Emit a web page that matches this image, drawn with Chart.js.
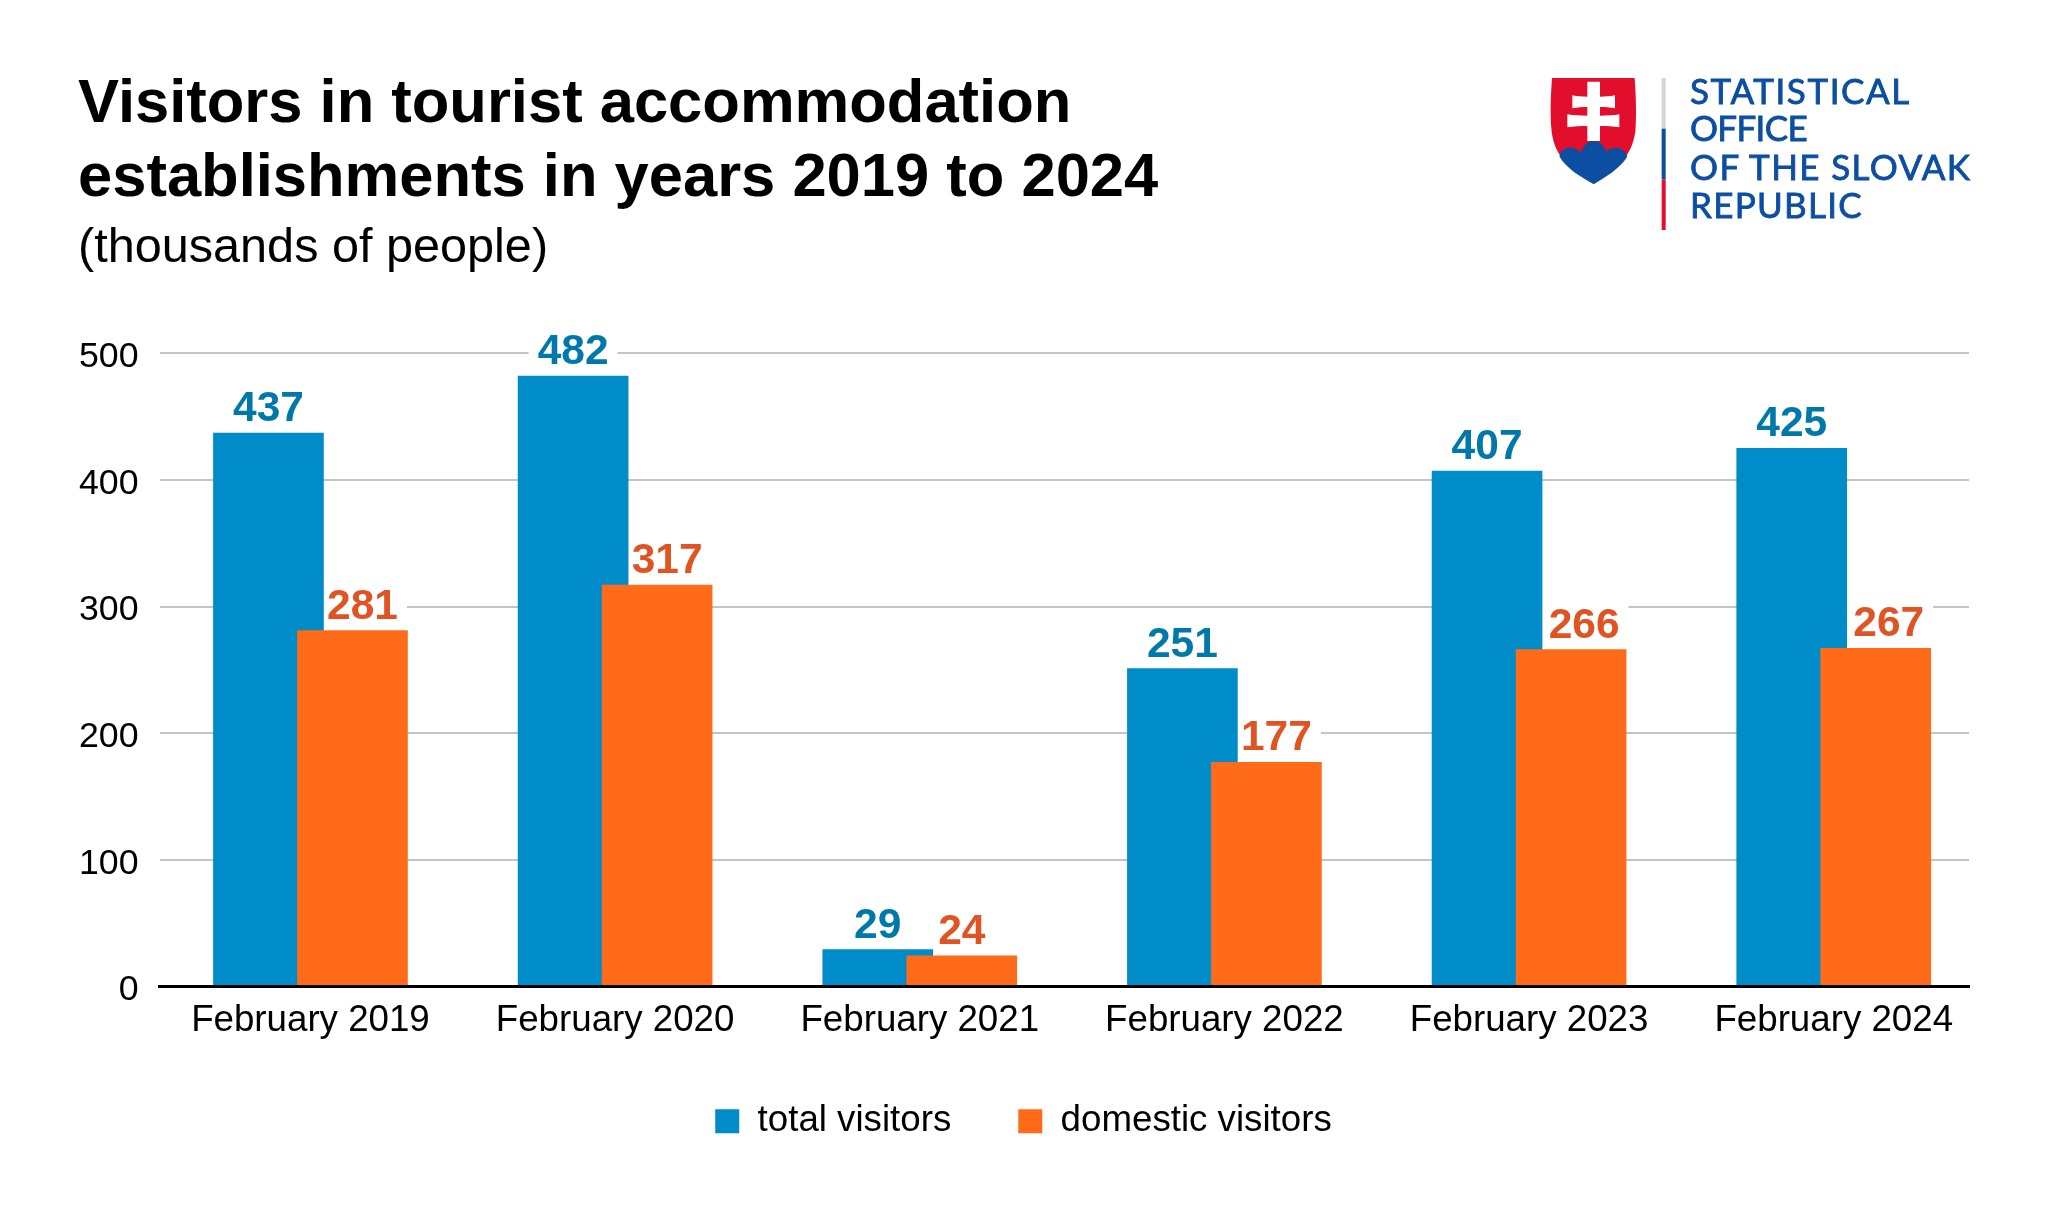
<!DOCTYPE html>
<html><head><meta charset="utf-8">
<style>
html,body{margin:0;padding:0;background:#fff;width:2048px;height:1210px;overflow:hidden}
canvas{position:absolute;left:0;top:0}
#logo{position:absolute;left:1500px;top:50px;width:500px;height:200px}
</style>
<script src="https://cdn.jsdelivr.net/npm/chart.js@4"></script>
</head><body>
<canvas id="c" width="2048" height="1210"></canvas>
<svg id="logo" viewBox="0 0 1500 600" xmlns="http://www.w3.org/2000/svg">
  <path d="M156 84H404C408 140 410 200 406 245C400 285 385 315 360 340C335 365 305 385 281 402C255 385 225 365 200 340C175 315 160 285 155 245C150 200 152 140 156 84Z" fill="#e30d2c"/>
  <path d="M178 318C185 300 195 293 207 293C222 293 235 298 243 308C250 285 265 273 282 273C299 273 312 285 318 305C327 297 337 293 349 293C362 293 375 302 382 318C372 338 355 352 335 368C315 382 297 393 281 402C265 393 245 382 225 368C205 352 188 338 178 318Z" fill="#0b4ea2"/>
  <path d="M262 95H300V140C315 140 330 139 345 136V175C330 172 315 171 300 171V197C320 197 340 196 358 193V232C340 229 320 228 300 228V273H262V228C242 228 222 229 202 232V193C222 196 242 197 262 197V171C247 171 232 172 217 175V136C232 139 247 140 262 140Z" fill="#fff"/>
  <rect x="485" y="84" width="12" height="152" fill="#d5d6d6"/>
  <rect x="485" y="236" width="12" height="152" fill="#0b4ea2"/>
  <rect x="485" y="388" width="12" height="152" fill="#e30d2c"/>
  <g font-family="Lato" font-size="105" fill="#0b4ea2" stroke="#0b4ea2" stroke-width="2.5" lengthAdjust="spacing">
    <text x="570" y="162" textLength="658">STATISTICAL</text>
    <text x="570" y="274" textLength="353">OFFICE</text>
    <text x="570" y="390" textLength="840">OF THE SLOVAK</text>
    <text x="570" y="504" textLength="515">REPUBLIC</text>
  </g>
</svg>
<script>
const categories = ['February 2019','February 2020','February 2021','February 2022','February 2023','February 2024'];
const totalVisitors = [437,482,29,251,407,425];
const domesticVisitors = [281,317,24,177,266,267];
const yTicks = [0,100,200,300,400,500];
const titleLines = ['Visitors in tourist accommodation','establishments in years 2019 to 2024'];
const subtitleText = '(thousands of people)';

const barShift = 0.1379;
const domesticLabelNudge = [10,10,0,10,13,13];
const FONT = '"Liberation Sans", Arial, sans-serif';
const LABEL_FONT = 'bold 42.5px ' + FONT;
const labelColours = ['#0079aa','#e05322'];

function eachLabel(chart, fn){
  const ctx = chart.ctx;
  ctx.save();
  ctx.font = LABEL_FONT;
  ctx.textAlign = 'center';
  ctx.textBaseline = 'alphabetic';
  [0,1].forEach(d=>{
    const vals = chart.data.datasets[d].data;
    chart.getDatasetMeta(d).data.forEach((el,i)=>{
      const s = String(vals[i].y);
      const x = el.x + (d===1 ? domesticLabelNudge[i] : 0);
      fn(ctx, s, x, el.y - 12, d);
    });
  });
  ctx.restore();
}

const valueLabels = {
  id:'valueLabels',
  afterLayout(chart){ chart.legend.top -= 10.5; },
  beforeDatasetsDraw(chart){
    eachLabel(chart,(ctx,s,x,base)=>{
      const w = ctx.measureText(s).width;
      ctx.fillStyle = '#fff';
      ctx.fillRect(x-w/2-9, base-32, w+18, 34);
    });
  },
  afterDatasetsDraw(chart){
    eachLabel(chart,(ctx,s,x,base,d)=>{
      ctx.fillStyle = labelColours[d];
      ctx.fillText(s, x, base);
    });
  }
};

new Chart(document.getElementById('c'),{
  type:'bar',
  data:{
    datasets:[
      {label:'total visitors',order:2,grouped:false,backgroundColor:'#008cc9',barThickness:110,
       data:categories.map((c,i)=>({x:i-barShift,y:totalVisitors[i]}))},
      {label:'domestic visitors',order:1,grouped:false,backgroundColor:'#ff6b18',barThickness:110,
       data:categories.map((c,i)=>({x:i+barShift,y:domesticVisitors[i]}))}
    ]
  },
  options:{
    responsive:false,animation:false,
    devicePixelRatio:1,
    layout:{padding:{left:78,right:79,top:0,bottom:50}},
    scales:{
      x:{type:'linear',offset:false,min:-0.4955,max:5.444,
        grid:{display:false,drawTicks:false},
        border:{color:'#000',width:3,z:5},
        afterFit(s){s.height=60;},
        ticks:{stepSize:1,includeBounds:false,autoSkip:false,maxRotation:0,padding:13,color:'#000',
          font:{family:FONT,size:36.7},
          callback:v=>categories[v]}},
      y:{min:0,max:500,
        grid:{color:'#c4c4c4',lineWidth:2,drawTicks:false},
        border:{display:false},
        afterFit(s){s.width=81.5;},
        afterBuildTicks(s){s.ticks=yTicks.map(v=>({value:v}));},
        ticks:{padding:21,labelOffset:4,color:'#000',font:{family:FONT,size:35.7}}}
    },
    plugins:{
      title:{display:true,text:titleLines,align:'start',color:'#000',
        font:{family:FONT,size:61.5,weight:'bold',lineHeight:1.2},padding:{top:68,bottom:0}},
      subtitle:{display:true,text:subtitleText,align:'start',color:'#000',
        font:{family:FONT,size:48.6,weight:'normal',lineHeight:1.2},padding:{top:4,bottom:75.4}},
      legend:{position:'bottom',
        labels:{boxWidth:24,boxHeight:24,padding:67,color:'#000',font:{family:FONT,size:36.7},
          sort:(a,b)=>a.datasetIndex-b.datasetIndex}},
      tooltip:{enabled:false}
    }
  },
  plugins:[valueLabels]
});
</script>
</body></html>
